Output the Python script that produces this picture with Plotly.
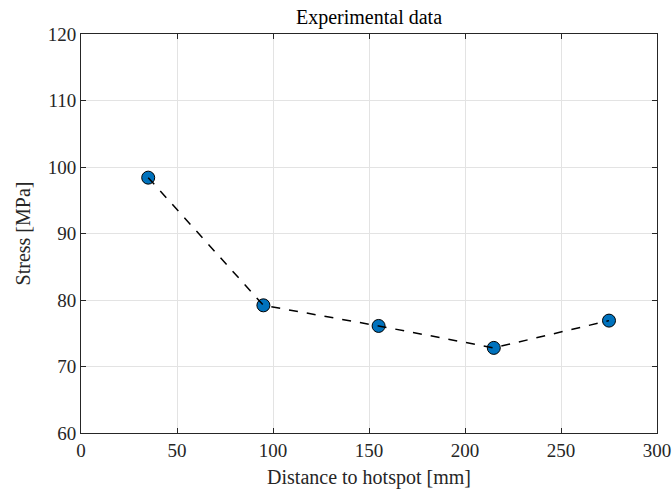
import plotly.graph_objects as go

distance_mm = [35, 95, 155, 215, 275]
stress_mpa = [98.4, 79.2, 76.1, 72.8, 76.9]
x_ticks = [0, 50, 100, 150, 200, 250, 300]
y_ticks = [60, 70, 80, 90, 100, 110, 120]

FONT = "Liberation Serif"
TXT = "#262626"

fig = go.Figure()
fig.add_trace(go.Scatter(
    x=distance_mm, y=stress_mpa, mode="markers",
    marker=dict(size=13, color="#0072BD", line=dict(color="black", width=1)),
    showlegend=False, hoverinfo="skip"))
fig.add_trace(go.Scatter(
    x=distance_mm, y=stress_mpa, mode="lines",
    line=dict(color="black", width=1.5, dash="dash"),
    showlegend=False))

axis_common = dict(
    showgrid=True, gridcolor="#e3e3e3", gridwidth=1,
    showline=True, linecolor=TXT, linewidth=1, mirror="allticks",
    ticks="inside", ticklen=5, tickcolor=TXT,
    zeroline=False, automargin=False,
    tickfont=dict(family=FONT, size=19, color=TXT),
)

fig.update_layout(
    width=672, height=492,
    margin=dict(l=81, r=15, t=34, b=59, autoexpand=False),
    paper_bgcolor="white", plot_bgcolor="white",
    title=dict(text="Experimental data", x=0.5, xref="paper", xanchor="center",
               y=1 - 17 / 492, yref="container", yanchor="middle",
               font=dict(family=FONT, size=20, color="black")),
    xaxis=dict(range=[0, 300], tickvals=x_ticks, ticktext=[str(v) for v in x_ticks],
               title=dict(text="Distance to hotspot [mm]", font=dict(family=FONT, size=20, color=TXT), standoff=10),
               **axis_common),
    yaxis=dict(range=[60, 120], tickvals=y_ticks, ticktext=[str(v) for v in y_ticks],
               title=dict(text="Stress [MPa]", font=dict(family=FONT, size=20, color=TXT), standoff=11),
               **axis_common),
)
fig.write_html("out.html", config={"displayModeBar": False},
               post_script="document.body.style.margin='0';")
